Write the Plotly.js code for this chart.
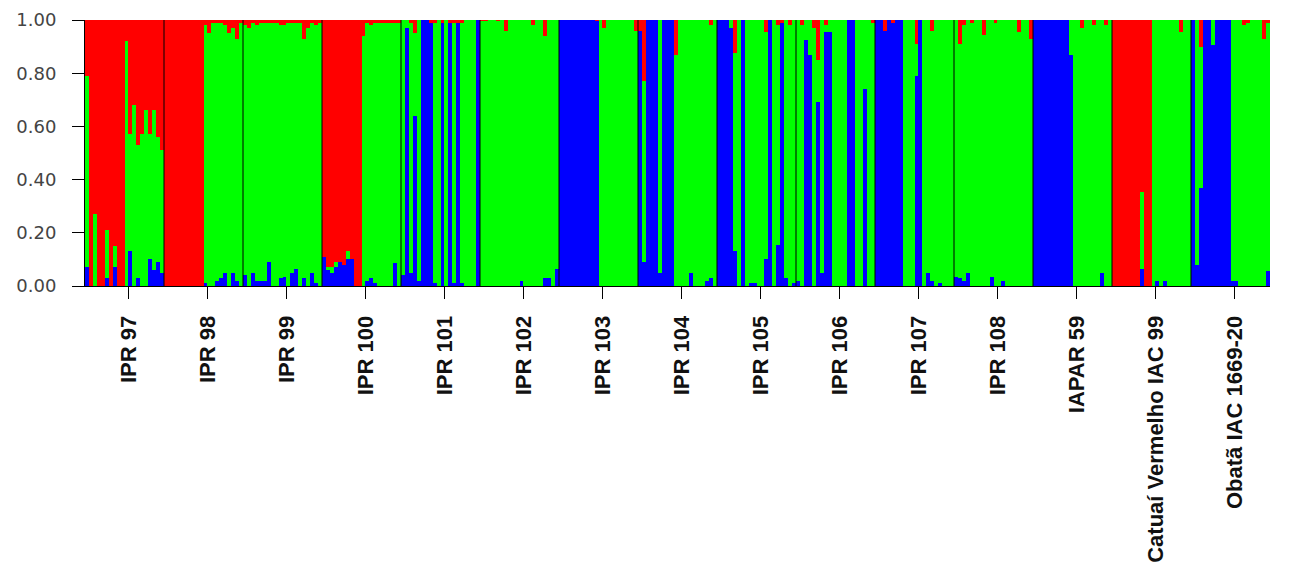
<!DOCTYPE html>
<html><head><meta charset="utf-8">
<script src="https://cdn.plot.ly/plotly-3.0.1.min.js"></script>
<style>html,body{margin:0;padding:0;background:#fff}#chart{width:1301px;height:564px}</style>
</head><body><div id="chart"></div>
<script>
// Group (population) labels
const groupNames = ["IPR 97","IPR 98","IPR 99","IPR 100","IPR 101","IPR 102","IPR 103","IPR 104","IPR 105","IPR 106","IPR 107","IPR 108","IAPAR 59","Catuaí Vermelho IAC 99","Obatã IAC 1669-20"];

// Membership coefficients per individual (20 per group): blue cluster and red cluster; green = remainder
const blue_IPR97  = [0.07,0,0,0,0,0.03,0,0.07,0,0,0,0.13,0,0.03,0,0,0.10,0.06,0.09,0.05];
const red_IPR97   = [0.21,1,0.73,1,1,0.79,1,0.85,1,1,0.08,0.43,0.32,0.47,0.43,0.34,0.43,0.34,0.44,0.49];

const blue_IPR98  = [0,0,0,0,0,0,0,0,0,0,0.01,0,0,0.02,0.03,0.05,0,0.05,0.02,0];
const red_IPR98   = [1,1,1,1,1,1,1,1,1,1,0.02,0.05,0.01,0.01,0.01,0.02,0.05,0.03,0.07,0.01];

const blue_IPR99  = [0.04,0,0.05,0.02,0.02,0.02,0.09,0,0,0.03,0.035,0,0.05,0.065,0,0.03,0,0.05,0.01,0];
const red_IPR99   = [0.02,0.03,0.01,0.02,0.01,0.01,0.01,0.01,0.01,0.02,0.02,0.01,0.01,0.01,0.01,0.07,0.03,0.01,0.02,0.01];

const blue_IPR100 = [0.11,0.06,0.05,0.07,0.09,0.08,0.10,0.10,0,0,0,0.02,0.03,0.01,0,0,0,0,0.085,0];
const red_IPR100  = [0.89,0.93,0.93,0.91,0.91,0.92,0.87,0.90,1,1,0.06,0.01,0.02,0.01,0.01,0.01,0.01,0.01,0.01,0.01];

const blue_IPR101 = [0.04,0.97,0.05,0.64,0.02,1,1,0.99,0.01,0,0.99,0,0.99,0.01,0.99,0.01,0,0,0,1];
const red_IPR101  = [0,0,0.01,0.05,0,0,0,0.01,0.01,0,0.01,0,0.01,0.01,0.01,0.01,0,0,0,0];

const blue_IPR102 = [0,0,0,0,0,0,0,0,0,0,0.02,0,0,0,0,0,0.03,0.03,0,0.065];
const red_IPR102  = [0.005,0.005,0,0,0.005,0,0.04,0,0,0,0,0,0,0.02,0,0,0.06,0,0,0];

const blue_IPR103 = [1,1,1,1,1,1,1,1,1,0.995,0,0,0,0,0,0,0,0,0,0];
const red_IPR103  = [0,0,0,0,0,0,0,0,0,0.005,0,0.03,0,0,0,0,0,0,0,0.04];

const blue_IPR104 = [0.96,0.09,1,1,1,0.05,1,1,1,0,0,0,0,0.05,0,0,0,0.02,0.03,0];
const red_IPR104  = [0.04,0.23,0,0,0,0,0,0,0,0.13,0,0,0,0,0,0,0,0,0.02,0];

const blue_IPR105 = [1,1,1,0.97,0.13,0,1,0,0.01,0.01,0,0,0.10,1,0,0.155,0.99,0.03,0,0.01];
const red_IPR105  = [0,0,0,0,0.125,0,0,0,0,0,0,0,0.045,0,0,0.02,0.01,0,0.02,0];

const blue_IPR106 = [0.02,0,0.925,0.87,0,0.69,0.05,0.955,0.955,0,0,0,0,1,1,0,0,0.74,0,0];
const red_IPR106  = [0,0.02,0,0,0.03,0.15,0,0.02,0,0,0,0,0,0,0,0,0,0,0,0.01];

const blue_IPR107 = [1,1,0.96,1,0.99,1,1,0,0,0,0.79,1,0,0.05,0.02,0,0.01,0,0,0];
const red_IPR107  = [0,0,0.04,0,0.01,0,0,0,0,0,0.09,0,0,0,0.04,0,0,0,0,0];

const blue_IPR108 = [0.035,0.03,0.02,0.05,0,0,0,0,0,0.035,0,0,0.02,0,0,0,0,0,0,0];
const red_IPR108  = [0,0.09,0.02,0,0.01,0,0,0.055,0,0,0.01,0,0,0,0,0,0.045,0,0,0.07];

const blue_IAPAR59 = [1,1,1,1,1,1,1,1,1,0.87,0,0,0,0,0,0,0,0.05,0,0];
const red_IAPAR59  = [0,0,0,0,0,0,0,0,0,0,0,0,0.03,0,0,0.02,0,0,0.02,0];

const blue_Catuai = [0,0,0,0,0,0,0,0.065,0,0,0,0.02,0,0.02,0,0,0,0,0,0];
const red_Catuai  = [1,1,1,1,1,1,1,0.645,1,1,0,0,0,0,0,0,0,0.045,0,0];

const blue_Obata  = [1,0.08,0.37,1,1,0.905,1,1,1,1,0.02,0.02,0,0,0,0,0,0,0,0.055];
const red_Obata   = [0,0,0.10,0,0,0,0,0,0,0,0,0,0,0.02,0.01,0,0,0,0.07,0.01];

const yTicks = [0,0.2,0.4,0.6,0.8,1.0];

const blueByGroup = [blue_IPR97,blue_IPR98,blue_IPR99,blue_IPR100,blue_IPR101,blue_IPR102,blue_IPR103,blue_IPR104,blue_IPR105,blue_IPR106,blue_IPR107,blue_IPR108,blue_IAPAR59,blue_Catuai,blue_Obata];
const redByGroup  = [red_IPR97,red_IPR98,red_IPR99,red_IPR100,red_IPR101,red_IPR102,red_IPR103,red_IPR104,red_IPR105,red_IPR106,red_IPR107,red_IPR108,red_IAPAR59,red_Catuai,red_Obata];

const perGroup = 20;
const x = [], blue = [], green = [], red = [];
blueByGroup.forEach((bArr, g) => {
  bArr.forEach((b, i) => {
    const r = redByGroup[g][i];
    x.push(g * perGroup + i + 0.5);
    blue.push(b);
    red.push(r);
    green.push(Math.max(0, 1 - b - r));
  });
});
const nTotal = x.length;

function barTrace(y, color) {
  return {type:'bar', x:x, y:y, width:1, marker:{color:color, line:{width:0}}, hoverinfo:'skip'};
}
const traces = [barTrace(blue,'#0000ff'), barTrace(green,'#00ff00'), barTrace(red,'#ff0000')];

const shapes = [];
for (let g = 1; g < groupNames.length; g++) {
  shapes.push({type:'line', xref:'x', yref:'y', x0:g*perGroup, x1:g*perGroup, y0:0, y1:1, line:{color:'#000', width:1}});
}

const layout = {
  width:1301, height:564,
  margin:{l:85, r:31, t:20, b:278, pad:0},
  barmode:'stack', bargap:0, showlegend:false,
  paper_bgcolor:'#fff', plot_bgcolor:'#fff',
  shapes:shapes,
  xaxis:{range:[0,nTotal], tickmode:'array',
    tickvals:groupNames.map((_,g)=>g*perGroup+11), ticktext:groupNames,
    tickangle:-90, ticks:'outside', ticklen:12, tickcolor:'#000', tickwidth:1,
    showline:true, linecolor:'#000', linewidth:1, showgrid:false, zeroline:false,
    ticklabelstandoff:8,
    tickfont:{family:'"Liberation Sans", Arial, sans-serif', size:22, color:'#111', weight:'bold'}},
  yaxis:{range:[0,1], tickmode:'array', tickvals:yTicks, tickformat:'.2f',
    ticks:'outside', ticklen:12, tickcolor:'#000', tickwidth:1,
    showline:true, linecolor:'#000', linewidth:1, showgrid:false, zeroline:false,
    ticklabelstandoff:12,
    tickfont:{family:'"DejaVu Sans", sans-serif', size:18, color:'#444'}}
};
Plotly.newPlot('chart', traces, layout, {staticPlot:true, displayModeBar:false});
</script></body></html>
